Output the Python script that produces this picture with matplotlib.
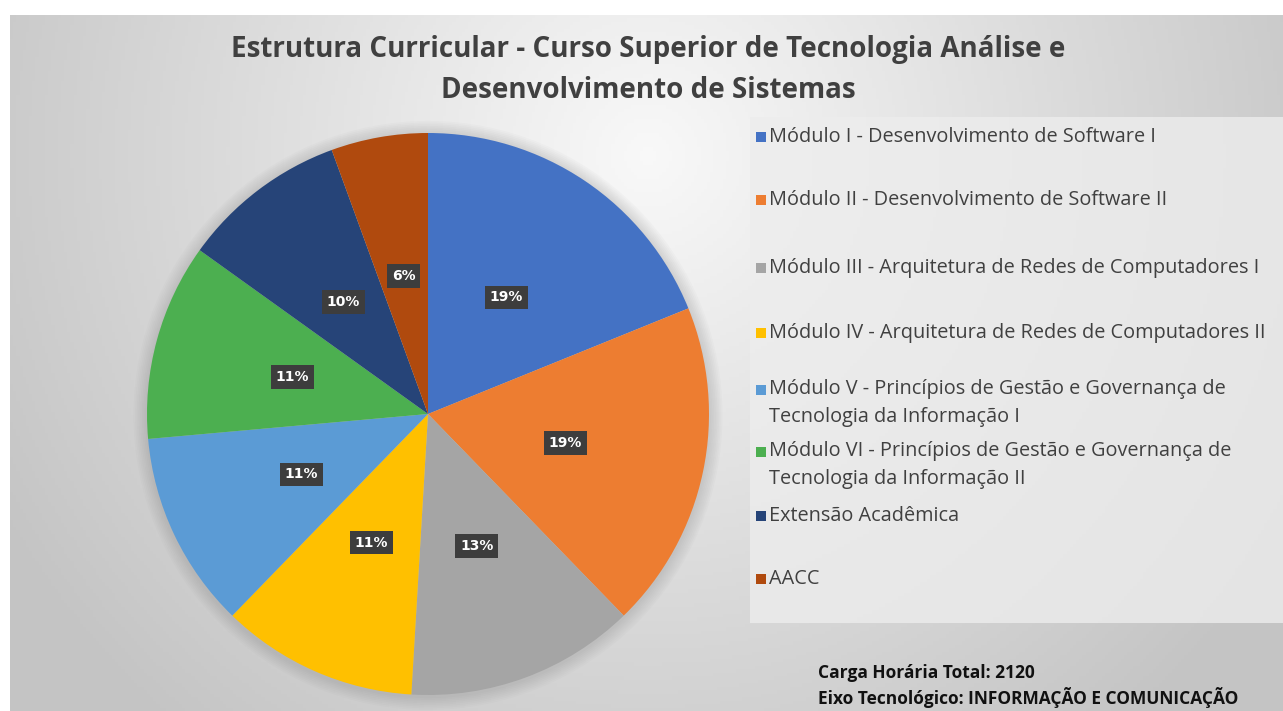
import numpy as np
import matplotlib
matplotlib.use("Agg")
import matplotlib.pyplot as plt
from matplotlib import font_manager
from matplotlib.patches import Rectangle, Circle

categories = [
    "Módulo I - Desenvolvimento de Software I",
    "Módulo II - Desenvolvimento de Software II",
    "Módulo III - Arquitetura de Redes de Computadores I",
    "Módulo IV - Arquitetura de Redes de Computadores II",
    "Módulo V - Princípios de Gestão e Governança de\nTecnologia da Informação I",
    "Módulo VI - Princípios de Gestão e Governança de\nTecnologia da Informação II",
    "Extensão Acadêmica",
    "AACC",
]
hours = [400, 400, 280, 240, 240, 240, 202, 118]
colors = ["#4472C4", "#ED7D31", "#A5A5A5", "#FFC000", "#5B9BD5", "#4CAF50", "#264478", "#B04A0E"]

title = "Estrutura Curricular - Curso Superior de Tecnologia Análise e\nDesenvolvimento de Sistemas"
footer = ["Carga Horária Total: 2120", "Eixo Tecnológico: INFORMAÇÃO E COMUNICAÇÃO"]

avail = {f.name for f in font_manager.fontManager.ttflist}
body = "Open Sans" if "Open Sans" in avail else "DejaVu Sans"

W, H = 1283, 711
fig = plt.figure(figsize=(W / 100, H / 100), dpi=100)
fig.patch.set_facecolor("white")

# background gradient frame
bg = fig.add_axes([10 / W, 0, 1 - 10 / W, 1 - 15 / H])
bg.set_axis_off()
yy, xx = np.mgrid[0:200, 0:400]
cx, cy = 200, 40
d = np.sqrt(((xx - cx) / 250.0) ** 2 + ((yy - cy) / 230.0) ** 2)
val = np.clip(0.975 - 0.22 * d, 0.77, 1.0)
bg.imshow(np.dstack([val, val, val]), aspect="auto", extent=[0, 1, 0, 1], origin="upper")
bg.set_xlim(0, 1)
bg.set_ylim(0, 1)
# legend panel
bg.add_patch(Rectangle(((750 - 10) / (W - 10), 1 - (623 - 15) / (H - 15)),
                       (W - 750) / (W - 10), (623 - 117) / (H - 15),
                       facecolor="#ededed", edgecolor="none", alpha=0.8))

# pie
cx_px, cy_px, r_px = 428, 414, 281
ax = fig.add_axes([(cx_px - r_px) / W, 1 - (cy_px + r_px) / H, 2 * r_px / W, 2 * r_px / H])
ax.set_axis_off()
# soft shadow
for k in range(8):
    ax.add_patch(Circle((0.0, -0.005), 1.0 + 0.006 * (k + 1), facecolor="#808080",
                        edgecolor="none", alpha=0.035, zorder=0, clip_on=False))
wedges, texts, autotexts = ax.pie(
    hours, colors=colors, startangle=90, counterclock=False,
    autopct=lambda p: f"{p:.0f}%", pctdistance=0.5,
    wedgeprops=dict(linewidth=0, zorder=2),
    textprops=dict(color="white", fontsize=10, fontweight="bold", family="DejaVu Sans"),
)
for t in autotexts:
    t.set_zorder(5)
    t.set_bbox(dict(boxstyle="square,pad=0.35", facecolor="#3d3d3d", edgecolor="none"))
ax.set_xlim(-1, 1)
ax.set_ylim(-1, 1)
ax.set_aspect("equal")

fig.text(648 / W, 1 - 70 / H, title, ha="center", va="center", fontsize=20,
         fontweight="bold", color="#404040", family=body, linespacing=1.5)

# legend
first_y = [137, 200, 268, 333, 390, 452, 516, 579]
for c, lab, y in zip(colors, categories, first_y):
    nlines = lab.count("\n") + 1
    fig.patches.append(Rectangle((756 / W, 1 - (y + 5) / H), 10 / W, 10 / H,
                                 transform=fig.transFigure, facecolor=c, edgecolor="none"))
    ymid = y + (nlines - 1) * 13
    fig.text(769 / W, 1 - ymid / H, lab, ha="left", va="center",
             fontsize=14.3, color="#404040", family=body, linespacing=1.52)

fig.text(818 / W, 1 - 673 / H, footer[0], ha="left", va="center", fontsize=12.5,
         fontweight="bold", color="#111111", family=body)
fig.text(818 / W, 1 - 697 / H, footer[1], ha="left", va="center", fontsize=12.5,
         fontweight="bold", color="#111111", family=body)

fig.savefig("out.png", dpi=100)
